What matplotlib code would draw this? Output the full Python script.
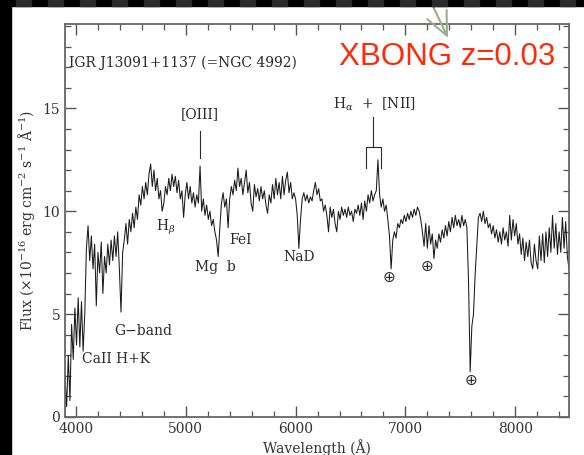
import matplotlib
matplotlib.use("Agg")
import matplotlib.pyplot as plt
from matplotlib.patches import Rectangle
from matplotlib.ticker import MultipleLocator
import numpy as np

plt.rcParams['font.family'] = ['DejaVu Serif', 'DejaVu Sans']
plt.rcParams['mathtext.fontset'] = 'dejavuserif'

# Spectrum of IGR J13091+1137, sampled every 15 A from 3900 A
wave = np.arange(3900, 8491, 15)
flux = [
    2.0, 0.5, 3.0, 0.8, 4.5, 2.8, 5.3, 3.5, 5.8, 3.4,        # 3900-4035
    5.6, 3.2, 5.0, 8.2, 9.3, 7.6, 8.8, 7.2, 8.4, 5.4,        # 4050-4185
    8.0, 7.0, 8.5, 6.0, 7.8, 7.0, 8.4, 7.4, 8.6, 7.6,        # 4200-4335
    8.8, 7.8, 9.0, 7.2, 5.1, 8.0, 8.6, 9.4, 8.4, 9.6,        # 4350-4485
    9.0, 9.9, 9.2, 10.2, 9.6, 10.8, 10.3, 11.2, 10.6, 11.4,  # 4500-4635
    10.8, 11.8, 12.3, 11.2, 12.0, 11.0, 11.6, 10.6, 11.0, 10.0,  # 4650-4785
    10.4, 11.2, 10.8, 11.6, 11.0, 11.8, 11.2, 11.7, 10.9, 11.5,  # 4800-4935
    10.6, 11.0, 9.7, 10.8, 11.4, 10.6, 11.2, 10.4, 10.9, 10.2,   # 4950-5085
    10.8, 10.4, 12.2, 10.0, 10.6, 9.8, 10.3, 9.6, 10.0, 9.3,     # 5100-5235
    9.6, 9.0, 8.6, 7.8, 9.2, 10.4, 10.9, 10.2, 10.6, 9.2,        # 5250-5385
    10.6, 11.2, 10.8, 11.5, 11.0, 12.1, 11.2, 11.6, 10.8, 11.4,  # 5400-5535
    12.0, 10.9, 11.4, 10.4, 10.0, 11.3, 10.7, 11.1, 10.5, 11.2,  # 5550-5685
    10.6, 11.0, 10.3, 9.9, 10.8, 10.4, 11.3, 10.6, 11.6, 10.8,   # 5700-5835
    11.4, 10.6, 11.7, 10.8, 11.5, 11.9, 10.9, 11.4, 10.6, 10.9,  # 5850-5985
    10.6, 9.8, 8.2, 9.6, 10.6, 10.9, 10.5, 10.8, 10.4, 10.7,     # 6000-6135
    10.5, 11.0, 11.4, 10.8, 11.1, 10.5, 10.6, 10.0, 10.3, 9.8,   # 6150-6285
    9.0, 10.2, 9.7, 10.1, 9.4, 9.0, 10.0, 9.6, 10.2, 9.8,        # 6300-6435
    10.1, 9.7, 10.2, 9.8, 10.0, 9.5, 10.1, 9.9, 10.3, 9.8,       # 6450-6585
    10.4, 9.6, 10.5, 10.0, 10.8, 10.4, 11.0, 10.5, 10.8, 11.0,   # 6600-6735
    12.5, 10.8, 10.2, 10.6, 10.0, 10.3, 9.6, 8.8, 7.2, 8.6,      # 6750-6885
    9.0, 8.7, 9.4, 9.2, 9.6, 9.4, 9.8, 9.5, 9.9, 9.6,            # 6900-7035
    10.0, 9.7, 10.1, 9.8, 10.2, 10.0, 9.6, 9.0, 8.3, 9.4,        # 7050-7185
    8.2, 9.3, 8.4, 8.9, 7.7, 8.6, 8.2, 8.9, 8.5, 9.1,            # 7200-7335
    8.7, 9.3, 8.8, 9.5, 9.0, 9.7, 9.2, 9.8, 9.3, 9.6,            # 7350-7485
    9.2, 9.8, 9.3, 9.6, 9.2, 6.6, 2.2, 4.4, 5.0, 6.9,            # 7500-7635
    8.3, 9.7, 9.9, 9.5, 10.0, 9.4, 9.7, 9.2, 9.4, 8.9,           # 7650-7785
    9.3, 8.7, 9.1, 8.5, 9.0, 8.4, 9.2, 8.6, 9.0, 8.3,            # 7800-7935
    9.8, 8.6, 9.6, 8.8, 9.4, 8.4, 8.9, 7.9, 8.7, 7.6,            # 7950-8085
    8.5, 7.8, 8.6, 7.5, 7.2, 8.4, 7.6, 7.2, 8.8, 7.6,            # 8100-8235
    8.9, 7.5, 9.0, 7.8, 9.2, 8.0, 9.8, 8.2, 9.4, 7.9,            # 8250-8385
    9.0, 8.0, 9.7, 8.2, 9.5, 7.8, 7.2,                            # 8400-8490
]

# line labels: (text, wavelength, flux)
labels = [
    ('CaII H+K', 4365, 2.8),
    ('G\u2212band', 4611, 4.2),
    (r'H$_\beta$', 4821, 9.2),
    ('Mg  b', 5267, 7.3),
    ('FeI', 5500, 8.6),
    ('NaD', 6033, 7.8),
]
telluric = [(6854, 6.8), (7200, 7.3), (7601, 1.8)]

fig = plt.figure(figsize=(5.84, 4.55), dpi=100)
ax = fig.add_axes([65/584, 38/455, 504/584, 393/455])

ax.plot(wave, flux, color='#1a1a1a', lw=0.75)

ax.set_xlim(3900, 8490)
ax.set_ylim(0, 19.1)
ax.xaxis.set_major_locator(MultipleLocator(1000))
ax.xaxis.set_minor_locator(MultipleLocator(200))
ax.yaxis.set_major_locator(MultipleLocator(5))
ax.yaxis.set_minor_locator(MultipleLocator(1))
ax.tick_params(which='both', direction='in', top=True, right=True,
               color='#555555', labelcolor='#333333', labelsize=10)
ax.tick_params(which='major', length=8, width=1)
ax.tick_params(which='minor', length=4, width=0.9)
for s in ax.spines.values():
    s.set_color('#666666')
    s.set_linewidth(1.3)

ax.set_xlabel('Wavelength (Å)', fontsize=10, color='#333333', labelpad=2)
ax.set_ylabel(r'Flux ($\times$10$^{-16}$ erg cm$^{-2}$ s$^{-1}$ Å$^{-1}$)',
              fontsize=10, color='#333333', labelpad=4)

tc = '#2a2a2a'
for txt, x, y in labels:
    ax.text(x, y, txt, ha='center', va='center', fontsize=10, color=tc)
for x, y in telluric:
    ax.text(x, y, '\u2295', ha='center', va='center', fontsize=11, color=tc,
            family=['DejaVu Sans'])

# [OIII]
ax.text(5130, 14.7, '[OIII]', ha='center', va='center', fontsize=10, color=tc)
ax.plot([5130, 5130], [12.6, 13.9], color=tc, lw=0.8)
# Halpha + [NII]
ax.text(6343, 15.0, r'H$_\alpha$  +  [NII]', ha='left', va='baseline', fontsize=10, color=tc)
ax.plot([6708, 6708], [13.1, 14.6], color=tc, lw=0.8)
ax.plot([6644, 6644, 6781, 6781], [12.1, 13.1, 13.1, 12.1], color=tc, lw=0.8)

ax.text(3936, 17.0, 'IGR J13091+1137 (=NGC 4992)', ha='left', va='baseline',
        fontsize=10, color=tc)
ax.text(0.544, 0.895, 'XBONG z=0.03', transform=ax.transAxes, ha='left',
        va='baseline', fontsize=22.5, color='#ff2a0a', family=['Liberation Sans'])

# black frame of the slide around the figure
fig.add_artist(Rectangle((0, 0), 11/584, 1, transform=fig.transFigure,
                         color='black', zorder=5))
fig.add_artist(Rectangle((0, 1 - 6/455), 1, 6/455, transform=fig.transFigure,
                         color='black', zorder=5))
for x0 in range(16, 584, 32):
    fig.add_artist(Rectangle((x0/584, 1 - 6/455), 15/584, 6/455,
                             transform=fig.transFigure, color='#2b2b2b', zorder=6))

# green pointer arrow
ax.annotate('', xy=(448, 417), xytext=(430, 455), xycoords='figure pixels',
            textcoords='figure pixels', zorder=10,
            arrowprops=dict(arrowstyle='->,head_length=1.2,head_width=0.55',
                            color='#9aae88', lw=1.5, mutation_scale=14,
                            shrinkA=0, shrinkB=0))

fig.savefig('out.png', dpi=100)
